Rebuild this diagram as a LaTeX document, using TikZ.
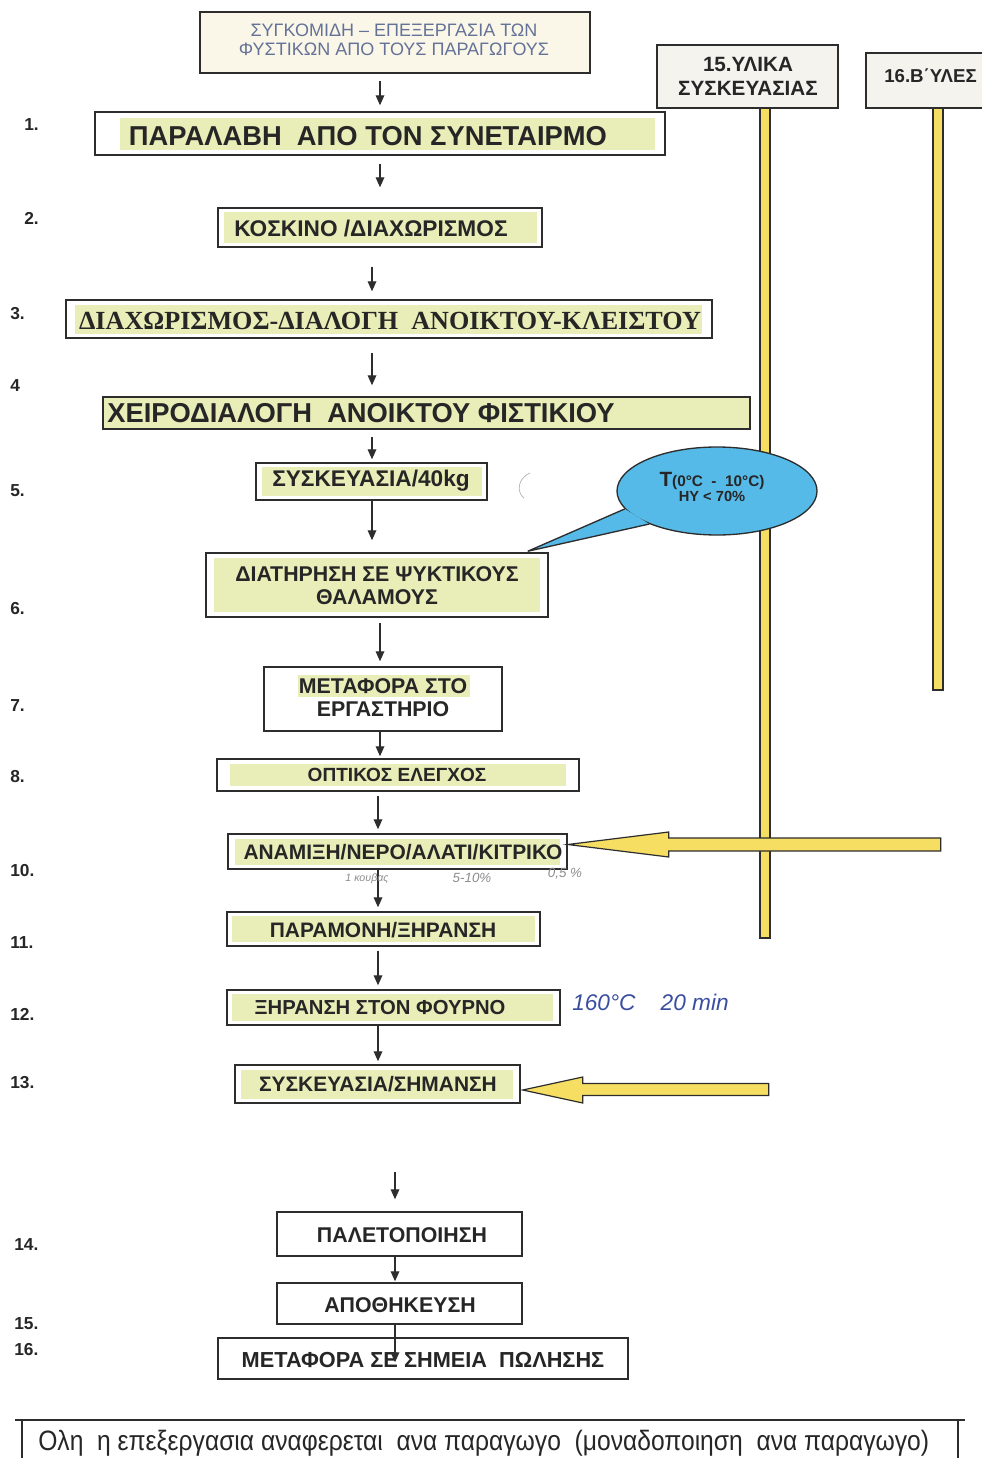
\documentclass[tikz,border=0pt]{standalone}
\usepackage{fontspec}
\usepackage{graphicx}
\setmainfont{Liberation Sans}
\newfontfamily\tms{Liberation Serif}
\usetikzlibrary{arrows.meta,calc,fit,shapes.geometric}
\definecolor{hl}{RGB}{233,238,184}
\definecolor{cream}{RGB}{250,247,232}
\definecolor{greybox}{RGB}{244,243,238}
\definecolor{topink}{RGB}{100,114,152}
\definecolor{sky}{RGB}{86,186,232}
\definecolor{ybar}{RGB}{246,222,98}
\definecolor{pen}{RGB}{58,78,160}
\definecolor{pencil}{RGB}{140,140,140}
\definecolor{edge}{RGB}{45,45,45}
\tikzset{
  box/.style={draw=edge, line width=1.1pt, fill=white, inner sep=0pt},
  arr/.style={draw=edge, line width=0.9pt, -{Triangle[length=7.5pt,width=6.5pt]}},
  bigt/.style={font=\bfseries\fontsize{20.5}{24}\selectfont, text=black!85, inner sep=0pt},
  midt/.style={font=\bfseries\fontsize{16}{17}\selectfont, text=black!85, inner sep=0pt, align=center},
  numt/.style={font=\bfseries\fontsize{13}{15}\selectfont, text=black!85, anchor=west, inner sep=0pt},
  ybarst/.style={fill=ybar, draw=edge, line width=0.8pt},
  yarr/.style={fill=ybar, draw=edge, line width=0.9pt, line join=miter},
}
\begin{document}
\begin{tikzpicture}[x=0.75pt,y=-0.75pt]
\useasboundingbox (0,0) rectangle (981,1458);
\fill[white] (0,0) rectangle (981,1458);

% columns for connectors
\coordinate (cA) at (380,0);
\coordinate (cB) at (372,0);
\coordinate (cC) at (378,0);
\coordinate (cD) at (395,0);

% yellow bars (behind the boxes)
\draw[ybarst] (760,104) rectangle (770,938);
\draw[ybarst] (933,104) rectangle (943,690);

% top right boxes
\node[box, fill=greybox, fit={(657,45) (838,108)}] (t15) {};
\node[midt, font=\bfseries\fontsize{15.5}{17.5}\selectfont] (t15txt) at (748,76.5) {15.ΥΛΙΚΑ\\ΣΥΣΚΕΥΑΣΙΑΣ};
\node[box, fill=greybox, fit={(866,53) (995,108)}] (t16) {};
\node[font=\bfseries\fontsize{14}{16}\selectfont, text=black!85, anchor=west, inner sep=0pt] (t16txt) at (884,76) {16.Β΄ΥΛΕΣ};

% step boxes
\node[box, fill=cream, line width=1.2pt, fit={(200,12) (590,73)}] (b0) {};
\node[font=\fontsize{13.5}{14.6}\selectfont, text=topink, align=center, inner sep=0pt] (b0txt) at (394,40) {ΣΥΓΚΟΜΙΔΗ – ΕΠΕΞΕΡΓΑΣΙΑ ΤΩΝ\\ΦΥΣΤΙΚΩΝ ΑΠΟ ΤΟΥΣ ΠΑΡΑΓΩΓΟΥΣ};

\node[box, fit={(95,112) (665,155)}] (b1) {};
\fill[hl] (120,118) rectangle (655,150);
\node[bigt] (b1txt) at (368,136) {ΠΑΡΑΛΑΒΗ~ ΑΠΟ ΤΟΝ ΣΥΝΕΤΑΙΡΜΟ};

\node[box, fit={(218,208) (542,247)}] (b2) {};
\fill[hl] (224,212) rectangle (537,243);
\node[font=\bfseries\fontsize{17}{19}\selectfont, text=black!85, inner sep=0pt] (b2txt) at (371,229) {ΚΟΣΚΙΝΟ /ΔΙΑΧΩΡΙΣΜΟΣ};

\node[box, fit={(66,300) (712,338)}] (b3) {};
\fill[hl] (75,305) rectangle (702,334);
\node[font=\tms\bfseries\fontsize{19.6}{22}\selectfont, text=black!85, inner sep=0pt] (b3txt) at (390,321) {ΔΙΑΧΩΡΙΣΜΟΣ-ΔΙΑΛΟΓΗ~ ΑΝΟΙΚΤΟΥ-ΚΛΕΙΣΤΟΥ};

\node[box, fill=hl, fit={(103,397) (750,429)}] (b4) {};
\node[bigt] (b4txt) at (361,413) {ΧΕΙΡΟΔΙΑΛΟΓΗ~ ΑΝΟΙΚΤΟΥ ΦΙΣΤΙΚΙΟΥ};

\node[box, fit={(256,463) (487,500)}] (b5) {};
\fill[hl] (262,467) rectangle (482,496);
\node[font=\bfseries\fontsize{17}{19}\selectfont, text=black!85, inner sep=0pt] (b5txt) at (371,481) {ΣΥΣΚΕΥΑΣΙΑ/40kg};

\node[box, fit={(206,553) (548,617)}] (b6) {};
\fill[hl] (214,558) rectangle (540,612);
\node[midt] (b6txt) at (377,585.5) {ΔΙΑΤΗΡΗΣΗ ΣΕ ΨΥΚΤΙΚΟΥΣ\\ΘΑΛΑΜΟΥΣ};

\node[box, fit={(264,667) (502,731)}] (b7) {};
\fill[hl] (298,675) rectangle (470,697);
\node[midt] (b7txt) at (383,697.5) {ΜΕΤΑΦΟΡΑ ΣΤΟ\\ΕΡΓΑΣΤΗΡΙΟ};

\node[box, fit={(217,759) (579,791)}] (b8) {};
\fill[hl] (230,764) rectangle (566,786);
\node[font=\bfseries\fontsize{14.3}{16}\selectfont, text=black!85, inner sep=0pt] (b8txt) at (397,775) {ΟΠΤΙΚΟΣ ΕΛΕΓΧΟΣ};

\node[box, fit={(228,834) (567,869)}] (b10) {};
\fill[hl] (235,839) rectangle (560,865);
\node[midt, font=\bfseries\fontsize{15.7}{17}\selectfont] (b10txt) at (403,852) {ΑΝΑΜΙΞΗ/ΝΕΡΟ/ΑΛΑΤΙ/ΚΙΤΡΙΚΟ};

\node[box, fit={(227,912) (540,946)}] (b11) {};
\fill[hl] (232,916) rectangle (535,942);
\node[midt, font=\bfseries\fontsize{15.7}{17}\selectfont] (b11txt) at (383,930) {ΠΑΡΑΜΟΝΗ/ΞΗΡΑΝΣΗ};

\node[box, fit={(227,990) (560,1025)}] (b12) {};
\fill[hl] (232,994) rectangle (553,1021);
\node[midt, font=\bfseries\fontsize{15.2}{17}\selectfont] (b12txt) at (380,1008) {ΞΗΡΑΝΣΗ ΣΤΟΝ ΦΟΥΡΝΟ};

\node[box, fit={(235,1065) (520,1103)}] (b13) {};
\fill[hl] (241,1070) rectangle (513,1099);
\node[midt, font=\bfseries\fontsize{15.7}{17}\selectfont] (b13txt) at (378,1084) {ΣΥΣΚΕΥΑΣΙΑ/ΣΗΜΑΝΣΗ};

\node[box, fit={(277,1212) (522,1256)}] (b14) {};
\node[midt] (b14txt) at (402,1235) {ΠΑΛΕΤΟΠΟΙΗΣΗ};

\node[box, fit={(277,1283) (522,1324)}] (b15) {};
\node[midt] (b15txt) at (400,1305) {ΑΠΟΘΗΚΕΥΣΗ};

\node[box, fit={(218,1338) (628,1379)}] (b16) {};
\node[midt, font=\bfseries\fontsize{16.3}{17}\selectfont] (b16txt) at (423,1360) {ΜΕΤΑΦΟΡΑ ΣΕ ΣΗΜΕΙΑ~ ΠΩΛΗΣΗΣ};

% step numbers
\node[numt] (n1) at (24,125) {1.};
\node[numt] (n2) at (24,218) {2.};
\node[numt] (n3) at (10,314) {3.};
\node[numt] (n4) at (10,386) {4};
\node[numt] (n5) at (10,491) {5.};
\node[numt] (n6) at (10,609) {6.};
\node[numt] (n7) at (10,706) {7.};
\node[numt] (n8) at (10,777) {8.};
\node[numt] (n10) at (10,871) {10.};
\node[numt] (n11) at (10,943) {11.};
\node[numt] (n12) at (10,1014) {12.};
\node[numt] (n13) at (10,1083) {13.};
\node[numt] (n14) at (14,1245) {14.};
\node[numt] (n15) at (14,1324) {15.};
\node[numt] (n16) at (14,1350) {16.};

% connectors
\draw[arr] ($(b0.south -| cA)+(0,7)$) -- ($(b1.north -| cA)+(0,-6)$);
\draw[arr] ($(b1.south -| cA)+(0,8)$) -- ($(b2.north -| cA)+(0,-20)$);
\draw[arr] ($(b2.south -| cB)+(0,19)$) -- ($(b3.north -| cB)+(0,-8)$);
\draw[arr] ($(b3.south -| cB)+(0,14)$) -- ($(b4.north -| cB)+(0,-11)$);
\draw[arr] ($(b4.south -| cB)+(0,7)$) -- ($(b5.north -| cB)+(0,-3)$);
\draw[arr] (b5.south -| cB) -- ($(b6.north -| cB)+(0,-12)$);
\draw[arr] ($(b6.south -| cA)+(0,5)$) -- ($(b7.north -| cA)+(0,-5)$);
\draw[arr] (b7.south -| cA) -- ($(b8.north -| cA)+(0,-2)$);
\draw[arr] ($(b8.south -| cC)+(0,4)$) -- ($(b10.north -| cC)+(0,-4)$);
\draw[arr] (b10.south -| cC) -- ($(b11.north -| cC)+(0,-4)$);
\draw[arr] ($(b11.south -| cC)+(0,4)$) -- ($(b12.north -| cC)+(0,-4)$);
\draw[arr] (b12.south -| cC) -- ($(b13.north -| cC)+(0,-3)$);
\coordinate (in14) at (395,1172);
\draw[arr] (in14) -- ($(b14.north -| cD)+(0,-12)$);
\draw[arr] (b14.south -| cD) -- ($(b15.north -| cD)+(0,-1)$);
\draw[arr] (b15.south -| cD) -- ($(b16.north -| cD)+(0,25)$);

% yellow input arrows
\draw[yarr] ($(b10.east)+(0,-7)$) -- ++(101,-12.5) -- ++(0,6) -- ++(272,0) -- ++(0,13) -- ++(-272,0) -- ++(0,6) -- cycle;
\draw[yarr] ($(b13.east)+(2,6)$) -- ++(60,-13) -- ++(0,6.5) -- ++(186,0) -- ++(0,12) -- ++(-186,0) -- ++(0,7.5) -- cycle;

% callout
\node[ellipse, draw=edge, line width=1pt, fill=sky, minimum width=150pt, minimum height=66pt, inner sep=0pt] (cl) at (717,491) {};
\coordinate (tip) at ($(b6.north east)+(-21,-1)$);
\fill[sky] (cl.191) -- (tip) -- (cl.206) -- cycle;
\draw[edge, line width=1pt, line join=miter] (cl.191) -- (tip) -- (cl.206);
\node[font=\bfseries, text=black!85, align=center, inner sep=0pt] (cltxt) at (712,487)
  {{\fontsize{15.5}{17}\selectfont T}{\fontsize{11.5}{13}\selectfont(0°C~ -~ 10°C)}\\[-1pt]{\fontsize{11}{13}\selectfont HY < 70\%}};

% handwritten notes
\draw[pencil!60, line width=0.6pt] (530,473) .. controls (518,478) and (516,492) .. (524,498);
\node[font=\itshape\fontsize{8}{9}\selectfont, text=pencil, inner sep=0pt] (h1) at (367,879) {1 κουβας};
\node[font=\itshape\fontsize{10}{11}\selectfont, text=pencil, inner sep=0pt] (h2) at (472,878) {5-10\%};
\node[font=\itshape\fontsize{10}{11}\selectfont, text=pencil, inner sep=0pt] (h3) at (565,874) {0,5 \%};
\node[font=\itshape\fontsize{17}{19}\selectfont, text=pen, anchor=west, inner sep=0pt] (h4) at (572,1002) {160°C~~~ 20 min};

% bottom note
\draw[edge, line width=1pt] (15,1420) -- (965,1420);
\draw[edge, line width=1pt] (22,1420) -- (22,1458);
\draw[edge, line width=1pt] (958,1420) -- (958,1458);
\node[font=\fontsize{21}{23}\selectfont, text=black!85, anchor=west, inner sep=0pt] (note) at (38,1443)
  {\scalebox{0.88}[1]{Ολη~ η επεξεργασια αναφερεται~ ανα παραγωγο~ (μοναδοποιηση~ ανα παραγωγο)}};
\end{tikzpicture}
\end{document}
